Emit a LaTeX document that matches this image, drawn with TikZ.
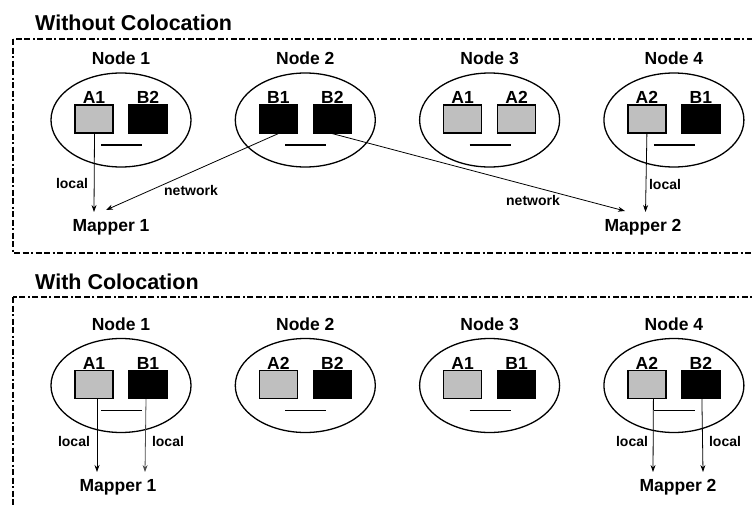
\documentclass[tikz,border=0pt]{standalone}
\usepackage{fontspec}
\setmainfont{Liberation Sans}
\usetikzlibrary{arrows.meta,shapes.geometric}

\tikzset{
  frame/.style={line width=1.2pt, dash pattern=on 6pt off 2.5pt on 6pt off 2.5pt on 2pt off 2.5pt},
  host/.style={ellipse, draw, line width=1.3pt, minimum width=140pt, minimum height=94pt, inner sep=0pt},
  blockA/.style={draw, fill=black!25, line width=1.2pt, minimum width=38pt, minimum height=28pt, inner sep=0pt},
  blockB/.style={draw, fill=black, line width=1.2pt, minimum width=38pt, minimum height=28pt, inner sep=0pt},
  lbl/.style={font=\fontsize{17.5}{19}\selectfont\bfseries, inner sep=0pt},
  tag/.style={font=\fontsize{14}{16}\selectfont\bfseries, inner sep=0pt},
  heading/.style={font=\fontsize{21.5}{24}\selectfont\bfseries, anchor=west, inner sep=0pt},
  link/.style={line width=0.8pt, -{Stealth[length=7pt,width=5pt]}},
  bar/.style={line width=1.3pt}
}

% #1 name, #2 x, #3 y, #4 caption, #5/#6 left text/style, #7/#8 right text/style
\newcommand\hostgroup[8]{
  \node[host] (#1) at (#2,#3) {};
  \node[lbl] (#1-t) at (#2,#3-61.5) {#4};
  \node[#6] (#1-a) at (#2-27,#3-1) {};
  \node[#8] (#1-b) at (#2+27,#3-1) {};
  \node[lbl] (#1-al) at (#2-27,#3-22.5) {#5};
  \node[lbl] (#1-bl) at (#2+27,#3-22.5) {#7};
  \draw[bar] (#2-20,#3+25) -- (#2+21,#3+25);
}

\begin{document}
\begin{tikzpicture}[x=1pt, y=-1pt]
\useasboundingbox (0,0) rectangle (752,506);

% ---------- without colocation ----------
\node[heading] (h1) at (35,23) {Without Colocation};
\draw[frame] (13,39) rectangle (775,253);

\hostgroup{u1}{121}{120}{Node 1}{A1}{blockA}{B2}{blockB}
\hostgroup{u2}{305.3}{120}{Node 2}{B1}{blockB}{B2}{blockB}
\hostgroup{u3}{489.6}{120}{Node 3}{A1}{blockA}{A2}{blockA}
\hostgroup{u4}{673.9}{120}{Node 4}{A2}{blockA}{B1}{blockB}

\node[lbl] (um1) at (111,227) {Mapper 1};
\node[lbl] (um2) at (643,227) {Mapper 2};

\coordinate (um1in) at (94,212);
\coordinate (um1net) at (106,210);
\coordinate (um2in) at (645.5,212);
\coordinate (um2net) at (625,211);

\draw[link] ([xshift=0.5pt]u1-a.south) -- (um1in);
\draw[link] (u2-a.south) -- (um1net);
\draw[link] (u2-b.south) -- (um2net);
\draw[link] (u4-a.south) -- (um2in);

\node[tag] (ul1) at (72,183) {local};
\node[tag] (un1) at (191,190) {network};
\node[tag] (un2) at (533,200) {network};
\node[tag] (ul2) at (665,184) {local};

% ---------- with colocation ----------
\node[heading] (h2) at (35,282) {With Colocation};
\draw[frame] (13,297) rectangle (775,530);

\hostgroup{w1}{121}{385.5}{Node 1}{A1}{blockA}{B1}{blockB}
\hostgroup{w2}{305.3}{385.5}{Node 2}{A2}{blockA}{B2}{blockB}
\hostgroup{w3}{489.6}{385.5}{Node 3}{A1}{blockA}{B1}{blockB}
\hostgroup{w4}{673.9}{385.5}{Node 4}{A2}{blockA}{B2}{blockB}

\node[lbl] (wm1) at (118,487) {Mapper 1};
\node[lbl] (wm2) at (678,487) {Mapper 2};

\coordinate (wm1a) at (97,472);
\coordinate (wm1b) at (145,472);
\coordinate (wm2a) at (653,472);
\coordinate (wm2b) at (703,472);

\draw[link] ([xshift=3pt]w1-a.south) -- (wm1a);
\draw[link, black!70] ([xshift=-2pt]w1-b.south) -- (wm1b);
\draw[link] ([xshift=6.5pt]w4-a.south) -- (wm2a);
\draw[link] ([xshift=1pt]w4-b.south) -- (wm2b);

\node[tag] (wl1) at (74,441) {local};
\node[tag] (wl2) at (168,441) {local};
\node[tag] (wl3) at (632,441) {local};
\node[tag] (wl4) at (725,441) {local};
\end{tikzpicture}
\end{document}
